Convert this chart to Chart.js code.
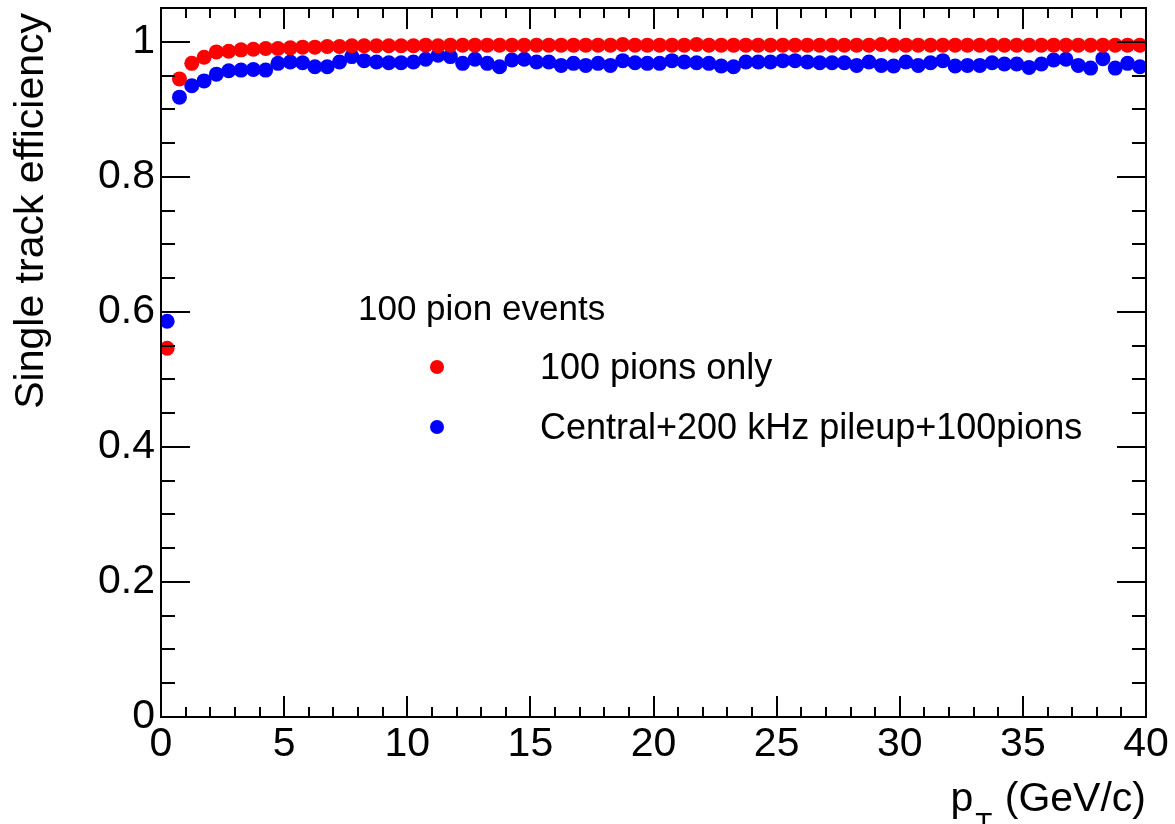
<!DOCTYPE html>
<html>
<head>
<meta charset="utf-8">
<script src="https://cdn.jsdelivr.net/npm/chart.js@4"></script>
<style>
  html, body { margin: 0; padding: 0; background: #fff; }
  #wrap { width: 1175px; height: 824px; }
</style>
</head>
<body>
<div id="wrap"><canvas id="effChart" width="1175" height="824"></canvas></div>
<script>
// bin centres (GeV/c)
const ptBins = [
  0.25, 0.75, 1.25, 1.75, 2.25, 2.75, 3.25, 3.75, 4.25, 4.75,
  5.25, 5.75, 6.25, 6.75, 7.25, 7.75, 8.25, 8.75, 9.25, 9.75,
  10.25, 10.75, 11.25, 11.75, 12.25, 12.75, 13.25, 13.75, 14.25, 14.75,
  15.25, 15.75, 16.25, 16.75, 17.25, 17.75, 18.25, 18.75, 19.25, 19.75,
  20.25, 20.75, 21.25, 21.75, 22.25, 22.75, 23.25, 23.75, 24.25, 24.75,
  25.25, 25.75, 26.25, 26.75, 27.25, 27.75, 28.25, 28.75, 29.25, 29.75,
  30.25, 30.75, 31.25, 31.75, 32.25, 32.75, 33.25, 33.75, 34.25, 34.75,
  35.25, 35.75, 36.25, 36.75, 37.25, 37.75, 38.25, 38.75, 39.25, 39.75
];

// 100 pions only
const effPionsOnly = [
  0.546, 0.945, 0.968, 0.977, 0.985, 0.986, 0.988, 0.989, 0.990, 0.990,
  0.991, 0.992, 0.992, 0.993, 0.993, 0.994, 0.994, 0.994, 0.994, 0.994,
  0.994, 0.995, 0.994, 0.995, 0.995, 0.995, 0.995, 0.995, 0.995, 0.995,
  0.995, 0.995, 0.995, 0.995, 0.995, 0.995, 0.995, 0.996, 0.995, 0.995,
  0.995, 0.995, 0.995, 0.996, 0.995, 0.995, 0.995, 0.995, 0.995, 0.995,
  0.995, 0.995, 0.995, 0.995, 0.995, 0.995, 0.995, 0.995, 0.996, 0.995,
  0.995, 0.995, 0.995, 0.995, 0.995, 0.995, 0.995, 0.995, 0.995, 0.995,
  0.995, 0.995, 0.995, 0.995, 0.995, 0.995, 0.995, 0.995, 0.995, 0.995
];

// Central + 200 kHz pileup + 100 pions
const effPileup = [
  0.586, 0.918, 0.935, 0.942, 0.952, 0.957, 0.958, 0.959, 0.958, 0.968,
  0.970, 0.969, 0.963, 0.963, 0.970, 0.978, 0.972, 0.970, 0.969, 0.969,
  0.970, 0.974, 0.980, 0.978, 0.968, 0.974, 0.968, 0.963, 0.973, 0.974,
  0.970, 0.970, 0.965, 0.968, 0.965, 0.968, 0.965, 0.972, 0.969, 0.968,
  0.968, 0.972, 0.970, 0.969, 0.968, 0.964, 0.963, 0.970, 0.970, 0.970,
  0.972, 0.972, 0.970, 0.969, 0.969, 0.969, 0.965, 0.970, 0.965, 0.964,
  0.970, 0.965, 0.969, 0.972, 0.964, 0.965, 0.965, 0.969, 0.967, 0.967,
  0.962, 0.967, 0.973, 0.974, 0.965, 0.961, 0.975, 0.961, 0.968, 0.963
];

const seriesNames = ["100 pions only", "Central+200 kHz pileup+100pions"];
const legendHeader = "100 pion events";
const xTickLabels = ["0", "5", "10", "15", "20", "25", "30", "35", "40"];
const yTickLabels = ["0", "0.2", "0.4", "0.6", "0.8", "1"];

const FONT = "'Liberation Sans', Arial, Helvetica, sans-serif";

function toPoints(ys) {
  return ys.map((y, i) => ({ x: ptBins[i], y: y }));
}

// ROOT style frame: ticks pointing inward on all four sides + titles + legend
const rootFrame = {
  id: "rootFrame",
  afterDraw(chart) {
    const ctx = chart.ctx;
    const a = chart.chartArea;
    const xs = chart.scales.x;
    const ys = chart.scales.y;
    ctx.save();
    ctx.strokeStyle = "#000";
    ctx.lineWidth = 2;
    ctx.strokeRect(a.left, a.top, a.right - a.left, a.bottom - a.top);

    ctx.beginPath();
    xs.ticks.forEach(t => {
      const px = Math.round(xs.getPixelForValue(t.value));
      const major = Math.abs(t.value % 5) < 1e-6;
      const len = major ? 21 : 10;
      ctx.moveTo(px, a.bottom); ctx.lineTo(px, a.bottom - len);
      ctx.moveTo(px, a.top); ctx.lineTo(px, a.top + len);
    });
    ys.ticks.forEach(t => {
      const py = Math.round(ys.getPixelForValue(t.value));
      const r = t.value / 0.2;
      const major = Math.abs(r - Math.round(r)) < 1e-6;
      const len = major ? 29 : 14;
      ctx.moveTo(a.left, py); ctx.lineTo(a.left + len, py);
      ctx.moveTo(a.right, py); ctx.lineTo(a.right - len, py);
    });
    ctx.stroke();

    // y title
    ctx.fillStyle = "#000";
    ctx.save();
    ctx.translate(43, 13);
    ctx.rotate(-Math.PI / 2);
    ctx.font = "41px " + FONT;
    ctx.textAlign = "right";
    ctx.textBaseline = "alphabetic";
    ctx.fillText("Single track efficiency", 0, 0);
    ctx.restore();

    // x title: p_T (GeV/c), right aligned at frame end
    ctx.textBaseline = "alphabetic";
    ctx.textAlign = "left";
    ctx.font = "41px " + FONT;
    const rest = " (GeV/c)";
    const wRest = ctx.measureText(rest).width;
    const xRest = a.right - wRest;
    ctx.fillText(rest, xRest, 811);
    ctx.font = "28px " + FONT;
    const wT = ctx.measureText("T").width;
    ctx.fillText("T", xRest - wT - 1, 832);
    ctx.font = "41px " + FONT;
    const wP = ctx.measureText("p").width;
    ctx.fillText("p", xRest - wT - 1 - wP - 2, 811);

    // legend
    ctx.font = "35px " + FONT;
    ctx.fillText(legendHeader, 358, 320);
    ctx.font = "36px " + FONT;
    const rows = [367, 427];
    chart.data.datasets.forEach((ds, i) => {
      ctx.beginPath();
      ctx.fillStyle = ds.backgroundColor;
      ctx.arc(437, rows[i], 7, 0, Math.PI * 2);
      ctx.fill();
      ctx.fillStyle = "#000";
      ctx.fillText(ds.label, 540, rows[i] + 12);
    });
    ctx.restore();
  }
};

new Chart(document.getElementById("effChart"), {
  type: "scatter",
  data: {
    datasets: [
      {
        label: seriesNames[0],
        data: toPoints(effPionsOnly),
        backgroundColor: "#ff0000",
        borderWidth: 0,
        pointRadius: 7.5,
        clip: 0
      },
      {
        label: seriesNames[1],
        data: toPoints(effPileup),
        backgroundColor: "#0000ff",
        borderWidth: 0,
        pointRadius: 7.5,
        clip: 0
      }
    ]
  },
  options: {
    responsive: false,
    animation: false,
    layout: { padding: { top: 8, right: 29, left: 0, bottom: 0 } },
    plugins: {
      legend: { display: false },
      tooltip: { enabled: false }
    },
    scales: {
      x: {
        type: "linear",
        min: 0,
        max: 40,
        grid: { display: false, drawTicks: false },
        border: { display: false },
        ticks: {
          stepSize: 1,
          autoSkip: false,
          maxRotation: 0,
          padding: 3,
          color: "#000",
          font: { family: FONT, size: 41 },
          callback: v => (v % 5 === 0 ? xTickLabels[v / 5] : "")
        },
        afterFit: s => { s.height = 107; s.paddingLeft = 0; s.paddingRight = 0; }
      },
      y: {
        type: "linear",
        min: 0,
        max: 1.05,
        grid: { display: false, drawTicks: false },
        border: { display: false },
        ticks: {
          stepSize: 0.05,
          autoSkip: false,
          padding: 6,
          color: "#000",
          font: { family: FONT, size: 41 },
          callback: v => {
            const r = v / 0.2;
            return Math.abs(r - Math.round(r)) < 1e-6 ? yTickLabels[Math.round(r)] : "";
          }
        },
        afterFit: s => { s.width = 161; s.paddingTop = 0; s.paddingBottom = 0; }
      }
    }
  },
  plugins: [rootFrame]
});
</script>
</body>
</html>
